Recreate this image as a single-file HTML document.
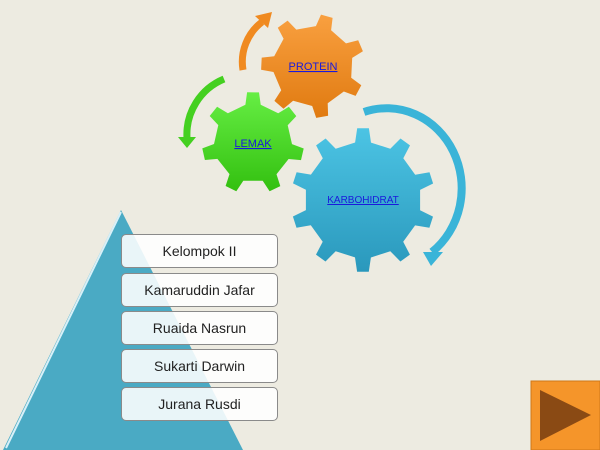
<!DOCTYPE html>
<html><head><meta charset="utf-8"><style>
body{margin:0;width:600px;height:450px;background:#edebe1;overflow:hidden;position:relative;font-family:"Liberation Sans",sans-serif}
.b{position:absolute;left:121px;width:157px;height:34px;border:1px solid #8a8a8a;border-radius:5px;background:rgba(255,255,255,.88);font-size:14px;color:#222;text-align:center;line-height:33px;box-sizing:border-box}
</style></head><body>
<svg width="600" height="450" style="position:absolute;left:0;top:0">
<defs>
<linearGradient id="go" x1="0" y1="0" x2="0" y2="1"><stop offset="0" stop-color="#f9a040"/><stop offset="1" stop-color="#e07a10"/></linearGradient>
<linearGradient id="gg" x1="0" y1="0" x2="0" y2="1"><stop offset="0" stop-color="#66ee44"/><stop offset="1" stop-color="#33c010"/></linearGradient>
<linearGradient id="gb" x1="0" y1="0" x2="0" y2="1"><stop offset="0" stop-color="#4cc4e4"/><stop offset="1" stop-color="#2a98bc"/></linearGradient>
</defs>
<polygon points="121,210 3,450 243,450" fill="#4aaac4"/>
<line x1="121" y1="212" x2="6" y2="448" stroke="#d8f0f8" stroke-width="2"/>
<path d="M243,70 A50,50 0 0 1 262,22" fill="none" stroke="#f08a20" stroke-width="7"/>
<polygon points="255,16 272,12 268,28" fill="#f08a20"/>
<path d="M224,79 A60,60 0 0 0 187,138" fill="none" stroke="#44d020" stroke-width="7"/>
<polygon points="178,137 196,137 187,148" fill="#44d020"/>
<path d="M364,112 A75,80 0 0 1 432,252" fill="none" stroke="#3ab4d8" stroke-width="8"/>
<polygon points="423,252 443,252 431,266" fill="#3ab4d8"/>
<path id="p1" fill="url(#go)"/><path id="p2" fill="url(#gg)"/><path id="p3" fill="url(#gb)"/>
<text x="313" y="70" font-size="11" fill="#1a1adc" text-anchor="middle" text-decoration="underline">PROTEIN</text>
<text x="253" y="147" font-size="11" fill="#1a1adc" text-anchor="middle" text-decoration="underline">LEMAK</text>
<text x="363" y="203" font-size="10" fill="#1a1adc" text-anchor="middle" text-decoration="underline">KARBOHIDRAT</text>
<rect x="531" y="381" width="69" height="69" fill="#f5952a" stroke="#d07818"/>
<polygon points="540,390 540,441 591,415" fill="#8a4a14"/>
</svg>
<div class="b" style="top:234px">Kelompok II</div>
<div class="b" style="top:273px">Kamaruddin Jafar</div>
<div class="b" style="top:311px">Ruaida Nasrun</div>
<div class="b" style="top:349px">Sukarti Darwin</div>
<div class="b" style="top:387px">Jurana Rusdi</div>
<script>
function gear(id,cx,cy,r,R,n,rot){var d="",s=2*Math.PI/n;for(var i=0;i<n;i++){var a=rot+i*s;var pts=[[r,a-s*0.22],[R,a-s*0.13],[R,a+s*0.13],[r,a+s*0.22]];
pts.forEach(function(p,j){d+=(i==0&&j==0?"M":"L")+(cx+p[0]*Math.cos(p[1])).toFixed(1)+","+(cy+p[0]*Math.sin(p[1])).toFixed(1)});}
document.getElementById(id).setAttribute("d",d+"Z");}
gear("p1",313,66,40,52,7,-1.3);
gear("p2",253,143,39,51,7,-1.57);
gear("p3",363,200,58,72,10,-1.57);
</script>
</body></html>
